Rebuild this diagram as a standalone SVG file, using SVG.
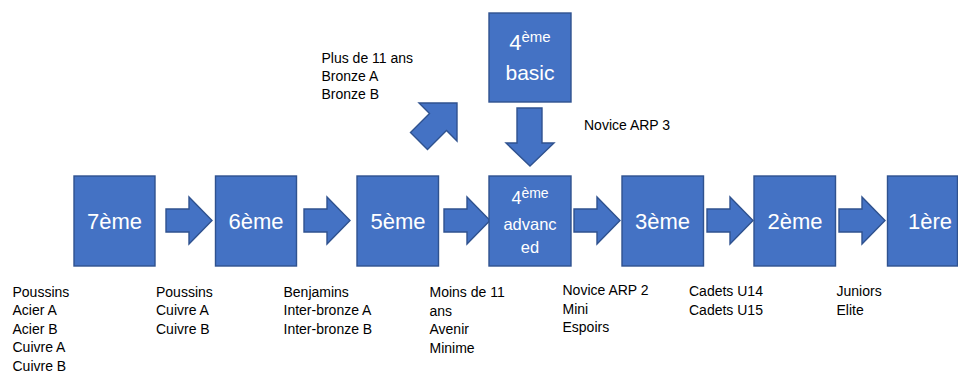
<svg xmlns="http://www.w3.org/2000/svg" width="958" height="372" viewBox="0 0 958 372">
<style>
.box{fill:#4472C4;stroke:#2F528F;stroke-width:1.4}
.arr{fill:#4472C4;stroke:#2F528F;stroke-width:1.4;stroke-linejoin:miter}
.bt{font-family:"Liberation Sans",Arial,sans-serif;fill:#FFFFFF;text-anchor:middle}
.lb{font-family:"Liberation Sans",Arial,sans-serif;font-size:14px;fill:#000000}
</style>
<defs>
<path id="harrow" d="M0,-11.5 H23 V-23.5 L46,0 L23,23.5 V11.5 H0 Z"/>
</defs>
<rect width="958" height="372" fill="#FFFFFF"/>

<g id="connectors">
<use href="#harrow" class="arr" transform="translate(166,220.5)"/>
<use href="#harrow" class="arr" transform="translate(304,220.5)"/>
<use href="#harrow" class="arr" transform="translate(444,220.5)"/>
<use href="#harrow" class="arr" transform="translate(574,220.5)"/>
<use href="#harrow" class="arr" transform="translate(707,220.5)"/>
<use href="#harrow" class="arr" transform="translate(839,220.5)"/>
<path class="arr" d="M517,108 H542 V143 H554 L530,166 L506,143 H517 Z"/>
<polygon class="arr" points="457,103 457,141 446.5,130.5 427.5,149.5 410.5,132.5 429.5,113.5 419,103"/>
</g>

<g id="n7">
<rect class="box" x="74" y="176" width="81" height="90"/>
<text class="bt" x="114.5" y="229" font-size="22">7ème</text>
</g>
<g id="n6">
<rect class="box" x="215.5" y="176" width="81" height="90"/>
<text class="bt" x="256" y="229" font-size="22">6ème</text>
</g>
<g id="n5">
<rect class="box" x="357" y="176" width="81.5" height="90"/>
<text class="bt" x="398" y="229" font-size="22">5ème</text>
</g>
<g id="n4adv">
<rect class="box" x="489" y="176" width="82" height="90"/>
<text class="bt" x="530" y="203.5" font-size="18">4<tspan font-size="14" dy="-6">ème</tspan></text>
<text class="bt" x="530" y="230" font-size="16.5">advanc</text>
<text class="bt" x="530" y="252.5" font-size="16.5">ed</text>
</g>
<g id="n4basic">
<rect class="box" x="489" y="13" width="82" height="89"/>
<text class="bt" x="530" y="49.5" font-size="22">4<tspan font-size="15" dy="-8">ème</tspan></text>
<text class="bt" x="530" y="80" font-size="21">basic</text>
</g>
<g id="n3">
<rect class="box" x="622" y="176" width="81.5" height="90"/>
<text class="bt" x="662.5" y="229" font-size="22">3ème</text>
</g>
<g id="n2">
<rect class="box" x="754" y="176" width="81.5" height="90"/>
<text class="bt" x="795" y="229" font-size="22">2ème</text>
</g>
<g id="n1">
<rect class="box" x="887.5" y="176" width="70" height="90"/>
<text class="bt" x="930" y="229" font-size="22">1ère</text>
</g>

<g id="labels">
<text class="lb" x="321.5" y="62.5">Plus de 11 ans</text>
<text class="lb" x="321.5" y="80.8">Bronze A</text>
<text class="lb" x="321.5" y="99">Bronze B</text>
<text class="lb" x="584" y="130">Novice ARP 3</text>

<text class="lb" x="12.5" y="296.5">Poussins</text>
<text class="lb" x="12.5" y="315">Acier A</text>
<text class="lb" x="12.5" y="333.5">Acier B</text>
<text class="lb" x="12.5" y="352">Cuivre A</text>
<text class="lb" x="12.5" y="370.5">Cuivre B</text>

<text class="lb" x="156" y="296.5">Poussins</text>
<text class="lb" x="156" y="315">Cuivre A</text>
<text class="lb" x="156" y="333.5">Cuivre B</text>

<text class="lb" x="283.5" y="296.5">Benjamins</text>
<text class="lb" x="283.5" y="315">Inter-bronze A</text>
<text class="lb" x="283.5" y="333.5">Inter-bronze B</text>

<text class="lb" x="429.5" y="297">Moins de 11</text>
<text class="lb" x="429.5" y="315.5">ans</text>
<text class="lb" x="429.5" y="334">Avenir</text>
<text class="lb" x="429.5" y="352.5">Minime</text>

<text class="lb" x="562.5" y="295">Novice ARP 2</text>
<text class="lb" x="562.5" y="313.5">Mini</text>
<text class="lb" x="562.5" y="332">Espoirs</text>

<text class="lb" x="689" y="296">Cadets U14</text>
<text class="lb" x="689" y="314.5">Cadets U15</text>

<text class="lb" x="836.5" y="296">Juniors</text>
<text class="lb" x="836.5" y="314.5">Elite</text>
</g>
</svg>
